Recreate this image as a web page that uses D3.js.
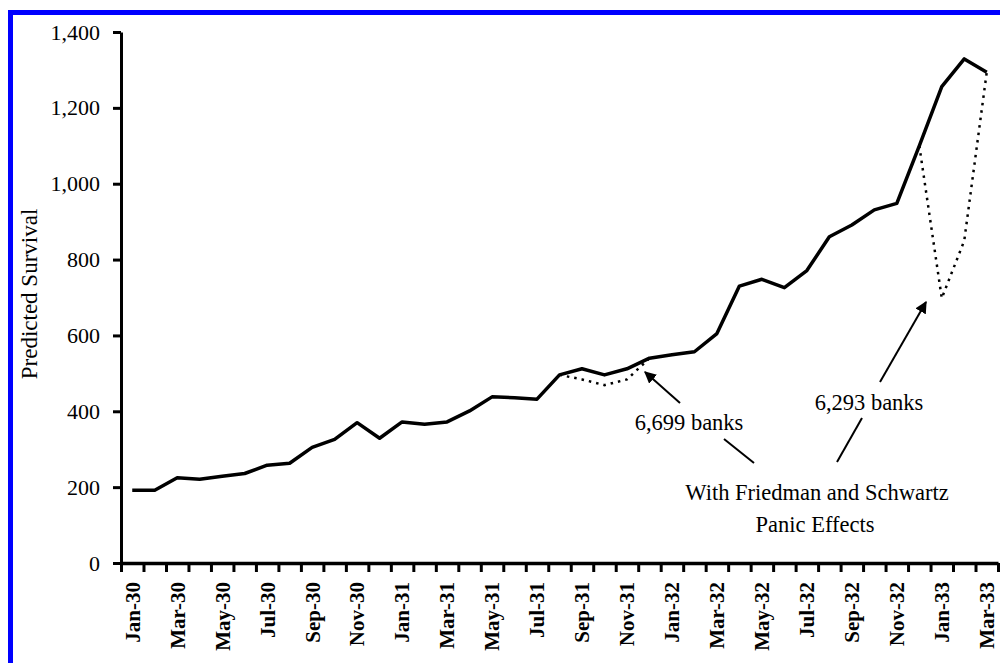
<!DOCTYPE html>
<html>
<head>
<meta charset="UTF-8">
<title>Predicted Survival</title>
<style>
  body { margin: 0; background: #fff; }
  svg text { font-family: "Liberation Serif", "Times New Roman", serif; fill: #000; }
  .axis path, .axis line { stroke: #000; }
</style>
</head>
<body>
<script src="https://cdn.jsdelivr.net/npm/d3@7"></script>
<script>
// months on the x axis (one point per month)
var months = [
  "Jan-30","Feb-30","Mar-30","Apr-30","May-30","Jun-30","Jul-30","Aug-30","Sep-30","Oct-30","Nov-30","Dec-30",
  "Jan-31","Feb-31","Mar-31","Apr-31","May-31","Jun-31","Jul-31","Aug-31","Sep-31","Oct-31","Nov-31","Dec-31",
  "Jan-32","Feb-32","Mar-32","Apr-32","May-32","Jun-32","Jul-32","Aug-32","Sep-32","Oct-32","Nov-32","Dec-32",
  "Jan-33","Feb-33","Mar-33"
];
// labelled months (every second one)
var monthLabels = months.filter(function(d, i) { return i % 2 === 0; });

// predicted survival, solid line
var survival = [
  192, 192, 225, 221, 229, 236, 258, 263, 305, 326, 370, 329,
  372, 366, 372, 401, 438, 436, 432, 496, 512, 496, 512, 540,
  549, 557, 605, 730, 748, 726, 771, 860, 891, 931, 948, 1100,
  1256, 1329, 1294
];

// with Friedman and Schwartz panic effects (dotted)
var panicMonths1 = ["Aug-31", "Sep-31", "Oct-31", "Nov-31", "Dec-31"];
var panicValues1 = [496, 484, 469, 484, 540];
var panicMonths2 = ["Dec-32", "Jan-33", "Feb-33", "Mar-33"];
var panicValues2 = [1100, 698, 850, 1294];

var yTicks = [0, 200, 400, 600, 800, 1000, 1200, 1400];

var W = 1000, H = 663;
var margin = {left: 121, right: 998, top: 32, bottom: 563};

var svg = d3.select("body").append("svg")
  .attr("width", W)
  .attr("height", H);

// blue frame
svg.append("rect")
  .attr("x", 10.5).attr("y", 12.5)
  .attr("width", 1000).attr("height", 700)
  .attr("fill", "none")
  .attr("stroke", "#0000ff")
  .attr("stroke-width", 5);

var x = d3.scaleBand().domain(months).range([margin.left, margin.right]);
var xi = d3.scaleLinear().domain([0, months.length]).range([margin.left, margin.right]);
var y = d3.scaleLinear().domain([0, 1400]).range([margin.bottom, margin.top]);

var cx = function(m) { return x(m) + x.bandwidth() / 2; };

// y axis
var yAxis = svg.append("g")
  .attr("class", "axis")
  .attr("transform", "translate(" + margin.left + ",0)")
  .call(d3.axisLeft(y).tickValues(yTicks).tickFormat(d3.format(",")).tickSize(8).tickSizeOuter(0).tickPadding(13));
yAxis.select(".domain").attr("stroke-width", 3);
yAxis.selectAll(".tick line").attr("stroke-width", 3);
yAxis.selectAll("text").style("font-size", "22px");

// x axis: tick marks at month boundaries
var xTicks = svg.append("g")
  .attr("class", "axis")
  .attr("transform", "translate(0," + margin.bottom + ")")
  .call(d3.axisBottom(xi).tickValues(d3.range(months.length + 1)).tickFormat("").tickSize(9).tickSizeOuter(0));
xTicks.select(".domain").attr("stroke-width", 3.5);
xTicks.selectAll(".tick line").attr("stroke-width", 3);

// x axis labels, rotated
var xLab = svg.append("g")
  .attr("transform", "translate(0," + margin.bottom + ")")
  .call(d3.axisBottom(x).tickValues(monthLabels).tickSize(0));
xLab.select(".domain").remove();
xLab.selectAll("text")
  .style("font-size", "21px")
  .style("font-weight", "bold")
  .attr("text-anchor", "end")
  .attr("transform", "rotate(-90)")
  .attr("x", -19)
  .attr("y", 0)
  .attr("dy", "0.35em");

// y title
svg.append("text")
  .attr("transform", "translate(37,294) rotate(-90)")
  .attr("text-anchor", "middle")
  .style("font-size", "23px")
  .text("Predicted Survival");

// lines
var line = d3.line()
  .x(function(d) { return cx(d[0]); })
  .y(function(d) { return y(d[1]); });

svg.append("path")
  .attr("d", line(months.map(function(m, i) { return [m, survival[i]]; })))
  .attr("fill", "none")
  .attr("stroke", "#000")
  .attr("stroke-width", 3.5)
  .attr("stroke-linejoin", "round");

[[panicMonths1, panicValues1], [panicMonths2, panicValues2]].forEach(function(s) {
  svg.append("path")
    .attr("d", line(s[0].map(function(m, i) { return [m, s[1][i]]; })))
    .attr("fill", "none")
    .attr("stroke", "#000")
    .attr("stroke-width", 2.5)
    .attr("stroke-dasharray", "2.5,5");
});

// annotations
svg.append("defs").append("marker")
  .attr("id", "arr")
  .attr("viewBox", "0 0 10 10")
  .attr("refX", 9).attr("refY", 5)
  .attr("markerWidth", 12).attr("markerHeight", 12)
  .attr("markerUnits", "userSpaceOnUse")
  .attr("orient", "auto")
  .append("path")
  .attr("d", "M0,0L10,5L0,10z")
  .attr("fill", "#000");

var arrows = [[680, 403, 645, 372], [880, 382, 926, 302]];
arrows.forEach(function(a) {
  svg.append("line")
    .attr("x1", a[0]).attr("y1", a[1]).attr("x2", a[2]).attr("y2", a[3])
    .attr("stroke", "#000").attr("stroke-width", 2)
    .attr("marker-end", "url(#arr)");
});

var leaders = [[724, 439, 754, 463], [862, 418, 837, 462]];
leaders.forEach(function(a) {
  svg.append("line")
    .attr("x1", a[0]).attr("y1", a[1]).attr("x2", a[2]).attr("y2", a[3])
    .attr("stroke", "#000").attr("stroke-width", 2);
});

var notes = [
  ["6,699 banks", 689, 430],
  ["6,293 banks", 869, 410],
  ["With Friedman and Schwartz", 817, 500],
  ["Panic Effects", 815, 532]
];
notes.forEach(function(n) {
  svg.append("text")
    .attr("x", n[1]).attr("y", n[2])
    .attr("text-anchor", "middle")
    .style("font-size", "22.5px")
    .text(n[0]);
});
</script>
</body>
</html>
